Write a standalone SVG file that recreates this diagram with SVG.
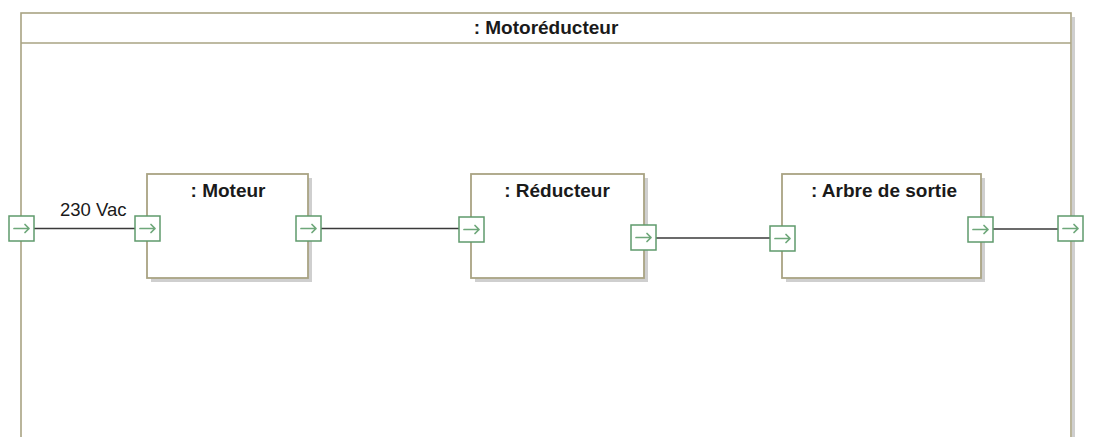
<svg xmlns="http://www.w3.org/2000/svg" width="1107" height="437" viewBox="0 0 1107 437">
  <defs>
    <style>
      .frame { fill: #ffffff; stroke: #a9a383; stroke-width: 1.6; }
      .shadow { fill: #cfcfcf; }
      .block { fill: #ffffff; stroke: #a9a383; stroke-width: 1.8; }
      .port { fill: #ffffff; stroke: #5f9a6c; stroke-width: 1.5; }
      .parrow { fill: none; stroke: #6ea77a; stroke-width: 1.7; stroke-linecap: round; stroke-linejoin: round; }
      .conn { fill: none; stroke: #3a3a3a; stroke-width: 1.5; }
      .title { font-family: "Liberation Sans", Arial, sans-serif; font-size: 19px; font-weight: bold; fill: #1a1a1a; text-anchor: middle; }
      .label { font-family: "Liberation Sans", Arial, sans-serif; font-size: 18.5px; fill: #1a1a1a; }
    </style>
    <g id="portShape">
      <rect class="port" x="0" y="0" width="25" height="25"/>
      <path class="parrow" d="M5 12.5 H20 M16 8.5 L20 12.5 L16 16.5"/>
    </g>
  </defs>
  <rect x="0" y="0" width="1107" height="437" fill="#ffffff"/>

  <g id="frame">
    <rect class="shadow" x="1072" y="17" width="3" height="430"/>
    <rect class="frame" x="21" y="13" width="1050" height="440"/>
    <line x1="21" y1="43" x2="1071" y2="43" stroke="#a9a383" stroke-width="1.6"/>
    <text class="title" x="546" y="34">: Motoréducteur</text>
  </g>

  <g id="moteur">
    <rect class="shadow" x="151" y="178" width="161" height="104"/>
    <rect class="block" x="147" y="174" width="161" height="104"/>
    <text class="title" x="228" y="197">: Moteur</text>
  </g>

  <g id="reducteur">
    <rect class="shadow" x="475" y="178" width="173" height="104"/>
    <rect class="block" x="471" y="174" width="173" height="104"/>
    <text class="title" x="557" y="197">: Réducteur</text>
  </g>

  <g id="arbre">
    <rect class="shadow" x="786" y="178" width="199" height="104"/>
    <rect class="block" x="782" y="174" width="199" height="104"/>
    <text class="title" x="884" y="197">: Arbre de sortie</text>
  </g>

  <g id="connectors">
    <line class="conn" x1="34" y1="228.5" x2="135" y2="228.5"/>
    <line class="conn" x1="321" y1="228.5" x2="459" y2="228.5"/>
    <line class="conn" x1="656" y1="238" x2="770" y2="238"/>
    <line class="conn" x1="993" y1="229" x2="1058" y2="229"/>
    <text class="label" x="60" y="216">230 Vac</text>
  </g>

  <g id="ports">
    <use href="#portShape" x="9" y="216"/>
    <use href="#portShape" x="135" y="216"/>
    <use href="#portShape" x="296" y="216"/>
    <use href="#portShape" x="459" y="217"/>
    <use href="#portShape" x="631" y="225"/>
    <use href="#portShape" x="770" y="226"/>
    <use href="#portShape" x="968" y="217"/>
    <use href="#portShape" x="1058" y="216"/>
  </g>
</svg>
